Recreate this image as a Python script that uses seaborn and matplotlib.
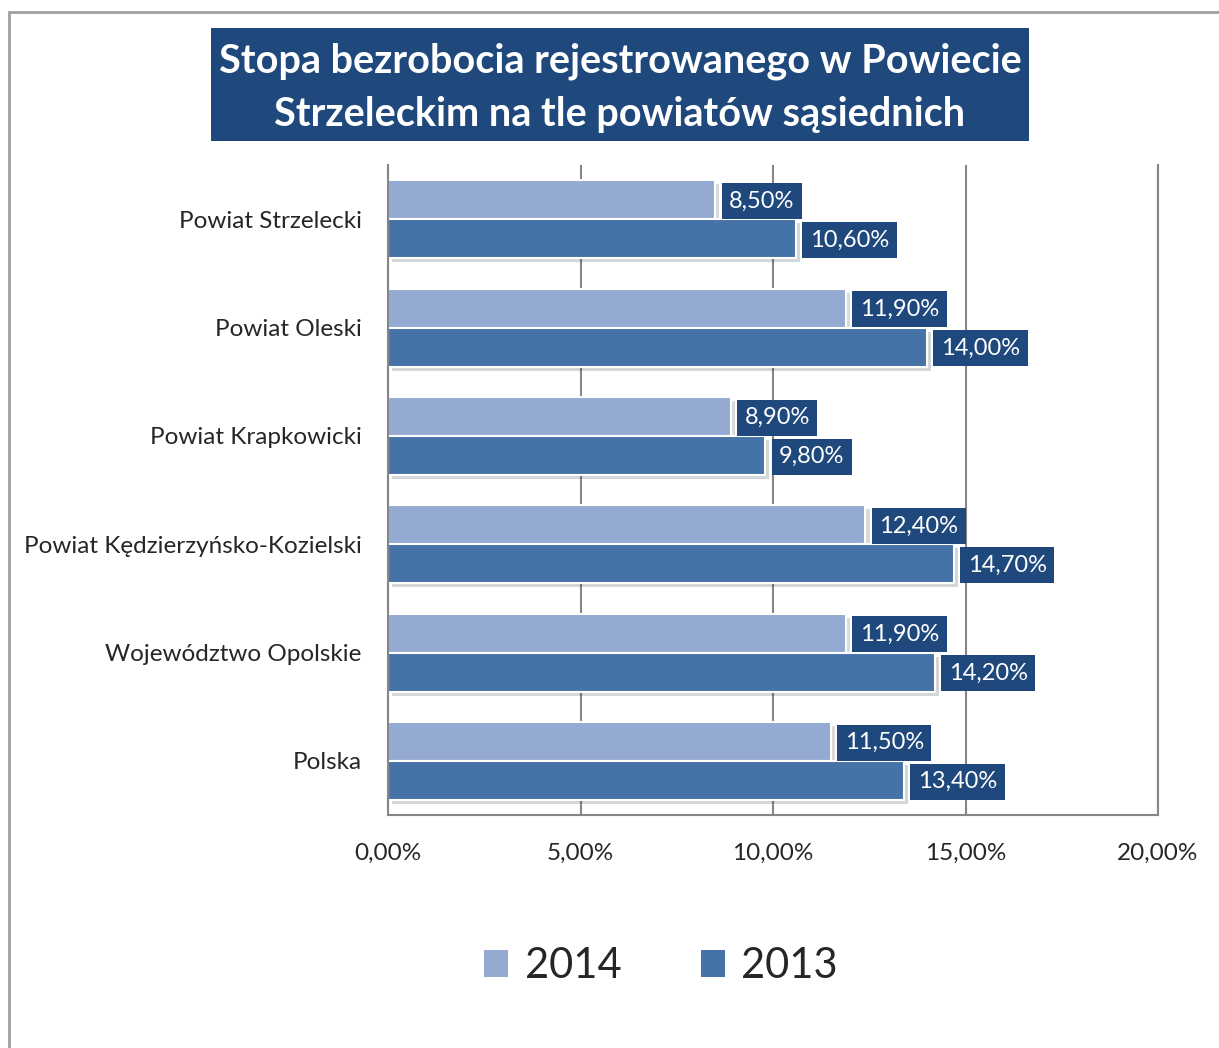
import pandas as pd
import matplotlib
matplotlib.use("Agg")
import matplotlib.pyplot as plt
import matplotlib.patheffects as pe
from matplotlib.patches import Rectangle
import seaborn as sns

# data
regions = ["Powiat Strzelecki", "Powiat Oleski", "Powiat Krapkowicki",
           "Powiat Kędzierzyńsko-Kozielski", "Województwo Opolskie", "Polska"]
years = ["2014", "2013"]
vals_2014 = [8.5, 11.9, 8.9, 12.4, 11.9, 11.5]
vals_2013 = [10.6, 14.0, 9.8, 14.7, 14.2, 13.4]
x_ticks = [0, 5, 10, 15, 20]

colors = {"2014": "#95AAD2", "2013": "#4573A7"}
navy = "#1F497D"

df = pd.DataFrame({
    "region": regions * 2,
    "year": ["2014"] * len(regions) + ["2013"] * len(regions),
    "value": vals_2014 + vals_2013,
})

sns.set_theme(style="white")
plt.rcParams["font.family"] = ["Lato", "DejaVu Sans"]

fig = plt.figure(figsize=(12.19, 10.48), dpi=100)
ax = fig.add_axes([388 / 1219, 1 - 815 / 1048, 770 / 1219, 650 / 1048])

sns.barplot(data=df, y="region", x="value", hue="year", hue_order=years,
            order=regions, palette=colors, orient="h", width=0.72,
            edgecolor="white", linewidth=1.5, saturation=1, ax=ax)

for bar in ax.patches:
    bar.set_path_effects([pe.SimplePatchShadow(offset=(3, -3), alpha=0.18), pe.Normal()])

# value labels in dark boxes
for cont in ax.containers:
    for bar in cont:
        w = bar.get_width()
        yc = bar.get_y() + bar.get_height() / 2
        ax.annotate(f"{w:.2f}%".replace(".", ","), xy=(w, yc), xytext=(10, -1),
                    textcoords="offset points", ha="left", va="center",
                    color="white", fontsize=17,
                    bbox=dict(boxstyle="square,pad=0.32", fc=navy, ec="none"))

ax.set_xlim(0, 20)
ax.set_xticks(x_ticks)
ax.set_xticklabels([f"{t:.2f}%".replace(".", ",") for t in x_ticks], fontsize=17.5)
ax.tick_params(axis="x", pad=20, length=0)
ax.tick_params(axis="y", pad=19, length=0, labelsize=17.5)
ax.set_xlabel("")
ax.set_ylabel("")
ax.grid(axis="x", color="#868686", linewidth=1.5)
ax.set_axisbelow(True)
ax.spines["top"].set_visible(False)
for s in ["left", "bottom", "right"]:
    ax.spines[s].set_color("#868686")
    ax.spines[s].set_linewidth(1.5)

# legend
handles, labels = ax.get_legend_handles_labels()
leg = ax.legend(handles, labels, loc="center", bbox_to_anchor=(661 / 1219, 1 - 966 / 1048),
                bbox_transform=fig.transFigure, ncol=2, frameon=False, fontsize=30,
                handlelength=0.58, handleheight=0.62, handletextpad=0.4, columnspacing=1.9)
for h in leg.legend_handles:
    h.set_path_effects([])
    h.set_edgecolor("none")

# title box
fig.patches.append(Rectangle((211 / 1219, 1 - 141 / 1048), 818 / 1219, 113 / 1048,
                             transform=fig.transFigure, fc=navy, ec="none", zorder=0))
fig.text(620 / 1219, 1 - 88 / 1048,
         "Stopa bezrobocia rejestrowanego w Powiecie\nStrzeleckim na tle powiatów sąsiednich",
         ha="center", va="center", color="white", fontsize=28.5, fontweight="bold",
         linespacing=1.52)

# outer chart border
fig.patches.append(Rectangle((9 / 1219, -0.05), 1.1, 1 - 12 / 1048 + 0.05,
                             transform=fig.transFigure, fc="none", ec="#A0A0A0",
                             linewidth=2, zorder=0))

fig.savefig("out.png", dpi=100)
